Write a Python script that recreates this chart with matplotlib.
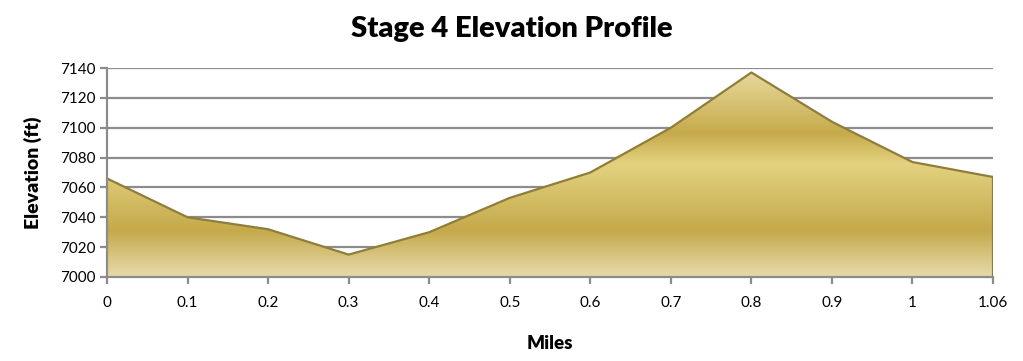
import numpy as np
import matplotlib
matplotlib.use("Agg")
import matplotlib.pyplot as plt
from matplotlib.colors import LinearSegmentedColormap

# datos del perfil
miles = ["0", "0.1", "0.2", "0.3", "0.4", "0.5", "0.6", "0.7", "0.8", "0.9", "1", "1.06"]
elevation = [7066, 7040, 7032, 7015, 7030, 7053, 7070, 7100, 7137, 7104, 7077, 7067]
y_ticks = [7000, 7020, 7040, 7060, 7080, 7100, 7120, 7140]

plt.rcParams['font.family'] = ['Lato', 'DejaVu Sans']

fig = plt.figure(figsize=(10.23, 3.61), dpi=100)
ax = fig.add_axes([0.1046, 0.2327, 0.8661, 0.5789])

x = np.arange(len(miles))
ymin, ymax = 7000, 7140

# gradiente dorado (claro-oscuro-claro-oscuro-claro)
gold = LinearSegmentedColormap.from_list("gold", [
    (0.0, "#e9dca0"),
    (0.31, "#c6aa4c"),
    (0.46, "#e3d280"),
    (0.78, "#c5a94b"),
    (1.0, "#e6dbab"),
])
grad = np.linspace(0, 1, 256).reshape(-1, 1)

ax.set_xlim(0, len(miles) - 1)
ax.set_ylim(ymin, ymax)

for yv in y_ticks[1:]:
    ax.axhline(yv, color="#8c8c8c", linewidth=1.6, zorder=1)

img = ax.imshow(grad, cmap=gold, aspect="auto", extent=[0, len(miles) - 1, ymin, ymax],
                origin="upper", zorder=2)
poly = ax.fill_between(x, ymin, elevation, facecolor="none", edgecolor="none", zorder=2)
path = poly.get_paths()[0]
img.set_clip_path(path, transform=ax.transData)

ax.plot(x, elevation, color="#8f7d3a", linewidth=1.6, zorder=3)
ax.plot([x[-1], x[-1]], [ymin, elevation[-1]], color="#8f7d3a", linewidth=1.6, zorder=3)

ax.set_xticks(x)
ax.set_xticklabels(miles)
ax.set_yticks(y_ticks)
ax.tick_params(axis="both", colors="#8c8c8c", labelcolor="black", labelsize=11,
               direction="out", length=5, width=1.6)
ax.tick_params(axis="x", pad=9)

for side in ["top", "right"]:
    ax.spines[side].set_visible(False)
for side in ["left", "bottom"]:
    ax.spines[side].set_color("#8c8c8c")
    ax.spines[side].set_linewidth(1.6)
    ax.spines[side].set_zorder(4)

ax.set_xlabel("Miles", fontsize=13.5, fontweight="heavy", labelpad=18)
ax.set_ylabel("Elevation (ft)", fontsize=14, fontweight="heavy", labelpad=13)
fig.suptitle("Stage 4 Elevation Profile", fontsize=21, fontweight="heavy", y=0.955)

fig.savefig("out.png", dpi=100)
